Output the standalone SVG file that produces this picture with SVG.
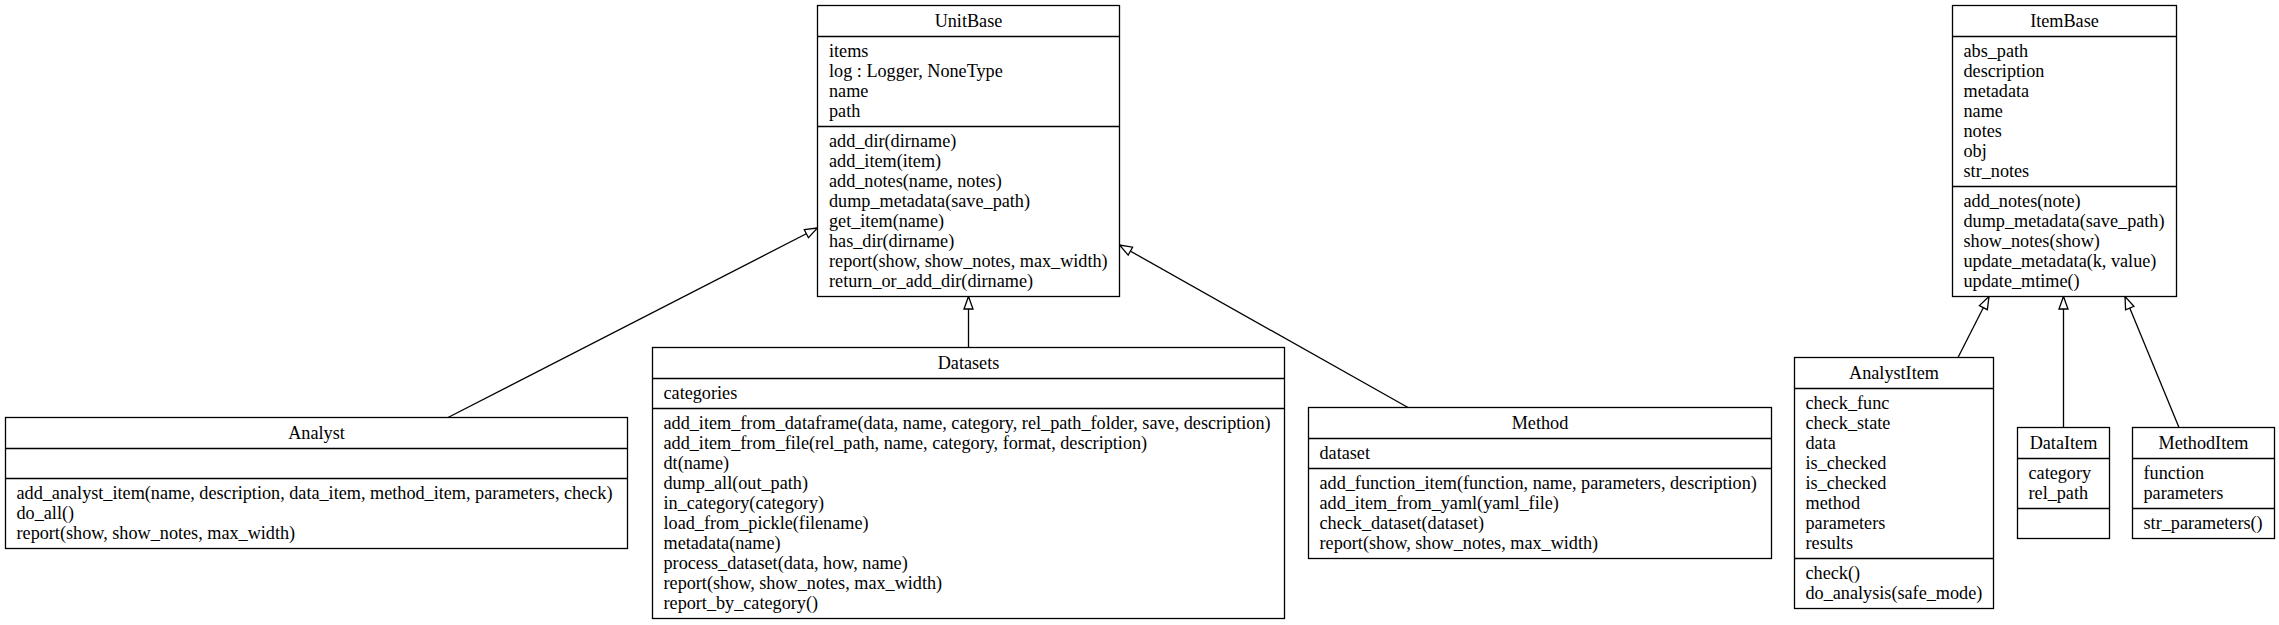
<svg xmlns="http://www.w3.org/2000/svg" width="2279" height="625" viewBox="0 0 2279 625">
<style>
.box{fill:#fff;stroke:#000;stroke-width:1.3}
.sep{stroke:#000;stroke-width:1.3}
text{font-family:"Liberation Serif","Times New Roman",serif;font-size:18.2px;fill:#000}
.t{text-anchor:middle}
.edge{fill:none;stroke:#000;stroke-width:1.3;marker-end:url(#inh)}
</style>
<defs>
<marker id="inh" markerUnits="userSpaceOnUse" markerWidth="16" markerHeight="12" refX="13" refY="5" orient="auto" overflow="visible">
<path d="M0.5,0.5 L13,5 L0.5,9.5 Z" fill="#fff" stroke="#000" stroke-width="1.3"/>
</marker>
</defs>
<rect width="2279" height="625" fill="#fff"/>
<g id="connectors">
<path class="edge" d="M448,417.5 L817.5,228"/>
<path class="edge" d="M968.5,347.5 L968.5,296.5"/>
<path class="edge" d="M1408,407.5 L1119.5,245"/>
<path class="edge" d="M1958,357.5 L1989,296.5"/>
<path class="edge" d="M2063.5,427.5 L2063.5,296.5"/>
<path class="edge" d="M2179,427.5 L2125,296.5"/>
</g>
<g id="UnitBase">
<rect class="box" x="817.5" y="5.5" width="302" height="291"/>
<line class="sep" x1="817.5" y1="36.5" x2="1119.5" y2="36.5"/>
<line class="sep" x1="817.5" y1="126.5" x2="1119.5" y2="126.5"/>
<text class="t" x="968.5" y="26.5">UnitBase</text>
<text x="829" y="56.5">items</text>
<text x="829" y="76.5">log : Logger, NoneType</text>
<text x="829" y="96.5">name</text>
<text x="829" y="116.5">path</text>
<text x="829" y="146.5">add_dir(dirname)</text>
<text x="829" y="166.5">add_item(item)</text>
<text x="829" y="186.5">add_notes(name, notes)</text>
<text x="829" y="206.5">dump_metadata(save_path)</text>
<text x="829" y="226.5">get_item(name)</text>
<text x="829" y="246.5">has_dir(dirname)</text>
<text x="829" y="266.5">report(show, show_notes, max_width)</text>
<text x="829" y="286.5">return_or_add_dir(dirname)</text>
</g>
<g id="ItemBase">
<rect class="box" x="1952.5" y="5.5" width="224" height="291"/>
<line class="sep" x1="1952.5" y1="36.5" x2="2176.5" y2="36.5"/>
<line class="sep" x1="1952.5" y1="186.5" x2="2176.5" y2="186.5"/>
<text class="t" x="2064.5" y="26.5">ItemBase</text>
<text x="1963.5" y="56.5">abs_path</text>
<text x="1963.5" y="76.5">description</text>
<text x="1963.5" y="96.5">metadata</text>
<text x="1963.5" y="116.5">name</text>
<text x="1963.5" y="136.5">notes</text>
<text x="1963.5" y="156.5">obj</text>
<text x="1963.5" y="176.5">str_notes</text>
<text x="1963.5" y="206.5">add_notes(note)</text>
<text x="1963.5" y="226.5">dump_metadata(save_path)</text>
<text x="1963.5" y="246.5">show_notes(show)</text>
<text x="1963.5" y="266.5">update_metadata(k, value)</text>
<text x="1963.5" y="286.5">update_mtime()</text>
</g>
<g id="Datasets">
<rect class="box" x="652.5" y="347.5" width="632" height="271"/>
<line class="sep" x1="652.5" y1="378.5" x2="1284.5" y2="378.5"/>
<line class="sep" x1="652.5" y1="408.5" x2="1284.5" y2="408.5"/>
<text class="t" x="968.5" y="368.5">Datasets</text>
<text x="663.5" y="398.5">categories</text>
<text x="663.5" y="428.5">add_item_from_dataframe(data, name, category, rel_path_folder, save, description)</text>
<text x="663.5" y="448.5">add_item_from_file(rel_path, name, category, format, description)</text>
<text x="663.5" y="468.5">dt(name)</text>
<text x="663.5" y="488.5">dump_all(out_path)</text>
<text x="663.5" y="508.5">in_category(category)</text>
<text x="663.5" y="528.5">load_from_pickle(filename)</text>
<text x="663.5" y="548.5">metadata(name)</text>
<text x="663.5" y="568.5">process_dataset(data, how, name)</text>
<text x="663.5" y="588.5">report(show, show_notes, max_width)</text>
<text x="663.5" y="608.5">report_by_category()</text>
</g>
<g id="Method">
<rect class="box" x="1308.5" y="407.5" width="463" height="151"/>
<line class="sep" x1="1308.5" y1="438.5" x2="1771.5" y2="438.5"/>
<line class="sep" x1="1308.5" y1="468.5" x2="1771.5" y2="468.5"/>
<text class="t" x="1540" y="428.5">Method</text>
<text x="1319.5" y="458.5">dataset</text>
<text x="1319.5" y="488.5">add_function_item(function, name, parameters, description)</text>
<text x="1319.5" y="508.5">add_item_from_yaml(yaml_file)</text>
<text x="1319.5" y="528.5">check_dataset(dataset)</text>
<text x="1319.5" y="548.5">report(show, show_notes, max_width)</text>
</g>
<g id="Analyst">
<rect class="box" x="5.5" y="417.5" width="622" height="131"/>
<line class="sep" x1="5.5" y1="448.5" x2="627.5" y2="448.5"/>
<line class="sep" x1="5.5" y1="478.5" x2="627.5" y2="478.5"/>
<text class="t" x="316.5" y="438.5">Analyst</text>
<text x="16.5" y="498.5">add_analyst_item(name, description, data_item, method_item, parameters, check)</text>
<text x="16.5" y="518.5">do_all()</text>
<text x="16.5" y="538.5">report(show, show_notes, max_width)</text>
</g>
<g id="AnalystItem">
<rect class="box" x="1794.5" y="357.5" width="199" height="251"/>
<line class="sep" x1="1794.5" y1="388.5" x2="1993.5" y2="388.5"/>
<line class="sep" x1="1794.5" y1="558.5" x2="1993.5" y2="558.5"/>
<text class="t" x="1894" y="378.5">AnalystItem</text>
<text x="1805.5" y="408.5">check_func</text>
<text x="1805.5" y="428.5">check_state</text>
<text x="1805.5" y="448.5">data</text>
<text x="1805.5" y="468.5">is_checked</text>
<text x="1805.5" y="488.5">is_checked</text>
<text x="1805.5" y="508.5">method</text>
<text x="1805.5" y="528.5">parameters</text>
<text x="1805.5" y="548.5">results</text>
<text x="1805.5" y="578.5">check()</text>
<text x="1805.5" y="598.5">do_analysis(safe_mode)</text>
</g>
<g id="DataItem">
<rect class="box" x="2017.5" y="427.5" width="92" height="111"/>
<line class="sep" x1="2017.5" y1="458.5" x2="2109.5" y2="458.5"/>
<line class="sep" x1="2017.5" y1="508.5" x2="2109.5" y2="508.5"/>
<text class="t" x="2063.5" y="448.5">DataItem</text>
<text x="2028.5" y="478.5">category</text>
<text x="2028.5" y="498.5">rel_path</text>
</g>
<g id="MethodItem">
<rect class="box" x="2132.5" y="427.5" width="142" height="111"/>
<line class="sep" x1="2132.5" y1="458.5" x2="2274.5" y2="458.5"/>
<line class="sep" x1="2132.5" y1="508.5" x2="2274.5" y2="508.5"/>
<text class="t" x="2203.5" y="448.5">MethodItem</text>
<text x="2143.5" y="478.5">function</text>
<text x="2143.5" y="498.5">parameters</text>
<text x="2143.5" y="528.5">str_parameters()</text>
</g>
</svg>
